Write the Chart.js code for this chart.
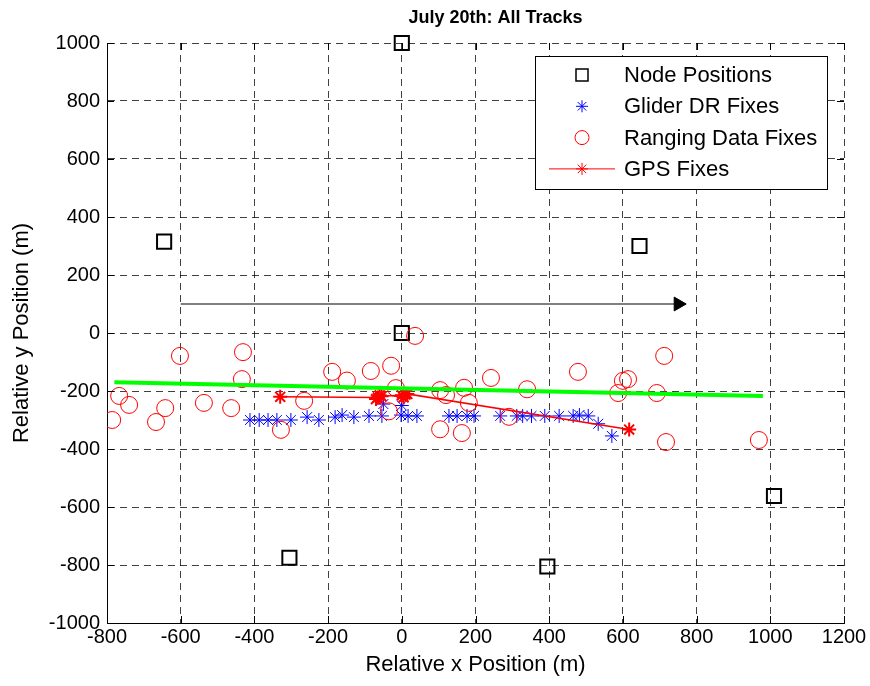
<!DOCTYPE html>
<html>
<head>
<meta charset="utf-8">
<title>July 20th: All Tracks</title>
<script src="https://cdn.jsdelivr.net/npm/chart.js@4.4.0/dist/chart.umd.min.js"></script>
<style>
body { margin: 0; background: #fff; }
</style>
</head>
<body>
<canvas id="grafico" width="870" height="686"></canvas>
<script>
// posicoes dos nos
const nodeX = [0, -645, 645, 0, -305, 395, 1010]
const nodeY = [1000, 315, 300, 0, -775, -805, -562]

// glider DR fixes
const gliderX = [-412, -387, -363, -339, -301, -257, -225, -181, -162, -130, -89, -54, -50, -2, 0, 17, 41, 128, 150, 177, 196, 267, 312, 328, 352, 388, 427, 465, 482, 506, 533, 570]
const gliderY = [-300, -300, -300, -300, -300, -290, -300, -290, -283, -290, -286, -286, -245, -283, -250, -286, -286, -286, -286, -286, -286, -286, -286, -286, -286, -286, -286, -286, -283, -286, -313, -355]

// ranging data fixes
const rangingX = [-786, -767, -740, -667, -642, -602, -537, -463, -431, -434, -328, -265, -189, -149, -84, -29, -16, -35, 36, 104, 120, 169, 182, 104, 163, 242, 291, 340, 478, 587, 600, 614, 692, 712, 717, 969]
const rangingY = [-300, -217, -248, -307, -259, -79, -241, -259, -66, -159, -334, -234, -134, -164, -131, -113, -190, -270, -10, -197, -214, -189, -241, -332, -345, -155, -289, -194, -134, -207, -165, -159, -207, -79, -376, -369]

// GPS fixes
const gpsX = [-330, -65, -60, -70, -55, 0, 10, 5, 15, 617]
const gpsY = [-220, -222, -215, -228, -218, -215, -212, -222, -210, -333]

// linha verde e seta
const trendX = [-780, 980]
const trendY = [-170, -217]
const arrowX = [-600, 750]
const arrowY = [100, 100]

const xTicks = [-800, 1200, 200]
const yTicks = [-1000, 1000, 200]

const fonte = '"Liberation Sans", Arial, sans-serif'

function pares(xs, ys) {
    var lista = []
    for (let i = 0; i < xs.length; i++) {
        lista.push({ x: xs[i], y: ys[i] })
    }
    return lista
}

const legendaItens = [
    { texto: 'Node Positions', tipo: 'rect', cor: '#000000' },
    { texto: 'Glider DR Fixes', tipo: 'star', cor: '#0000ff' },
    { texto: 'Ranging Data Fixes', tipo: 'circle', cor: '#ff0000' },
    { texto: 'GPS Fixes', tipo: 'gps', cor: '#ff0000' }
]

function desenharEstrela(ctx, x, y, r) {
    ctx.beginPath()
    ctx.moveTo(x, y - r); ctx.lineTo(x, y + r)
    ctx.moveTo(x - r, y); ctx.lineTo(x + r, y)
    var d = r * Math.SQRT1_2
    ctx.moveTo(x - d, y - d); ctx.lineTo(x + d, y + d)
    ctx.moveTo(x - d, y + d); ctx.lineTo(x + d, y - d)
    ctx.stroke()
}

const extras = {
    id: 'extras',
    afterDatasetsDraw(chart) {
        const ctx = chart.ctx
        const area = chart.chartArea
        const sx = chart.scales.x
        const sy = chart.scales.y
        ctx.save()
        // ticks para dentro
        ctx.strokeStyle = '#000'
        ctx.lineWidth = 1
        ctx.setLineDash([])
        ctx.beginPath()
        sx.ticks.forEach(function (t) {
            var px = Math.round(sx.getPixelForValue(t.value)) + 0.5
            ctx.moveTo(px, area.bottom); ctx.lineTo(px, area.bottom - 7)
            ctx.moveTo(px, area.top); ctx.lineTo(px, area.top + 7)
        })
        sy.ticks.forEach(function (t) {
            var py = Math.round(sy.getPixelForValue(t.value)) + 0.5
            ctx.moveTo(area.left, py); ctx.lineTo(area.left + 7, py)
            ctx.moveTo(area.right, py); ctx.lineTo(area.right - 7, py)
        })
        ctx.stroke()

        // legenda
        var lx = area.right - 309
        var ly = area.top + 13
        ctx.fillStyle = '#fff'
        ctx.fillRect(lx, ly, 292, 133)
        ctx.strokeStyle = '#000'
        ctx.strokeRect(lx + 0.5, ly + 0.5, 292, 133)
        ctx.font = '22px ' + fonte
        ctx.textBaseline = 'middle'
        for (let i = 0; i < legendaItens.length; i++) {
            let item = legendaItens[i]
            let cy = ly + 19 + i * 31.3
            let cx = lx + 47
            ctx.strokeStyle = item.cor
            if (item.tipo == 'rect') {
                ctx.lineWidth = 1.5
                ctx.strokeRect(cx - 6, cy - 6, 12, 12)
            } else if (item.tipo == 'star') {
                ctx.lineWidth = 1
                desenharEstrela(ctx, cx, cy, 6)
            } else if (item.tipo == 'circle') {
                ctx.lineWidth = 1
                ctx.beginPath()
                ctx.arc(cx, cy, 7, 0, Math.PI * 2)
                ctx.stroke()
            } else {
                ctx.lineWidth = 1
                ctx.beginPath()
                ctx.moveTo(lx + 14, cy); ctx.lineTo(lx + 80, cy)
                ctx.stroke()
                desenharEstrela(ctx, cx, cy, 6)
            }
            ctx.fillStyle = '#000'
            ctx.textAlign = 'left'
            ctx.fillText(item.texto, lx + 89, cy + 1)
        }

        // titulo
        ctx.font = 'bold 18px ' + fonte
        ctx.textAlign = 'center'
        ctx.fillStyle = '#000'
        ctx.fillText('July 20th: All Tracks', (area.left + area.right) / 2 + 20, 18)
        ctx.restore()
    }
}

const ctx = document.getElementById('grafico')

var grafico = new Chart(ctx, {
    type: 'scatter',
    data: {
        datasets: [
            {
                label: 'Node Positions',
                data: pares(nodeX, nodeY),
                pointStyle: 'rect',
                pointRadius: 10,
                pointHoverRadius: 10,
                borderColor: '#000000',
                backgroundColor: 'rgba(0,0,0,0)',
                borderWidth: 2,
                clip: false,
                order: 6
            },
            {
                label: 'Glider DR Fixes',
                data: pares(gliderX, gliderY),
                pointStyle: 'star',
                pointRadius: 7,
                borderColor: '#0000ff',
                backgroundColor: '#0000ff',
                borderWidth: 1,
                order: 5
            },
            {
                label: 'Ranging Data Fixes',
                data: pares(rangingX, rangingY),
                pointStyle: 'circle',
                pointRadius: 8.5,
                borderColor: '#ff0000',
                backgroundColor: 'rgba(0,0,0,0)',
                borderWidth: 1,
                order: 4
            },
            {
                label: 'GPS Fixes',
                data: pares(gpsX, gpsY),
                showLine: true,
                borderColor: '#ff0000',
                backgroundColor: '#ff0000',
                borderWidth: 1.5,
                pointStyle: 'star',
                pointRadius: 7,
                pointBorderWidth: 2,
                order: 3
            },
            {
                label: 'trend',
                data: pares(trendX, trendY),
                showLine: true,
                borderColor: '#00ff00',
                borderWidth: 4,
                pointRadius: 0,
                order: 2
            },
            {
                label: 'seta',
                data: pares(arrowX, arrowY),
                showLine: true,
                borderColor: '#000000',
                backgroundColor: '#000000',
                borderWidth: 1,
                pointStyle: 'triangle',
                pointRotation: 90,
                pointRadius: [0, 8],
                pointBorderWidth: 1,
                order: 1
            }
        ]
    },
    options: {
        responsive: false,
        animation: false,
        layout: {
            padding: { top: 43, right: 26, bottom: 0, left: 0 }
        },
        scales: {
            x: {
                type: 'linear',
                min: xTicks[0],
                max: xTicks[1],
                ticks: {
                    stepSize: xTicks[2],
                    color: '#000',
                    padding: 2,
                    maxRotation: 0,
                    font: { family: fonte, size: 20 },
                    callback: function (v) { return String(v) }
                },
                grid: {
                    color: 'rgba(0,0,0,0.75)',
                    drawTicks: false,
                    lineWidth: 1
                },
                border: { display: true, color: '#000', width: 1, dash: [7, 5] },
                title: {
                    display: true,
                    text: 'Relative x Position (m)',
                    color: '#000',
                    font: { family: fonte, size: 22 },
                    padding: { top: 0, bottom: 8 }
                },
                afterFit: function (scale) { scale.height = 63 }
            },
            y: {
                type: 'linear',
                min: yTicks[0],
                max: yTicks[1],
                ticks: {
                    stepSize: yTicks[2],
                    color: '#000',
                    padding: 7,
                    font: { family: fonte, size: 20 },
                    callback: function (v) { return String(v) }
                },
                grid: {
                    color: 'rgba(0,0,0,0.75)',
                    drawTicks: false,
                    lineWidth: 1
                },
                border: { display: true, color: '#000', width: 1, dash: [7, 5] },
                title: {
                    display: true,
                    text: 'Relative y Position (m)',
                    color: '#000',
                    font: { family: fonte, size: 22 },
                    padding: { top: 9, bottom: 0 }
                },
                afterFit: function (scale) { scale.width = 107 }
            }
        },
        plugins: {
            legend: { display: false },
            tooltip: { enabled: false },
            title: { display: false }
        }
    },
    plugins: [extras]
});
</script>
</body>
</html>
